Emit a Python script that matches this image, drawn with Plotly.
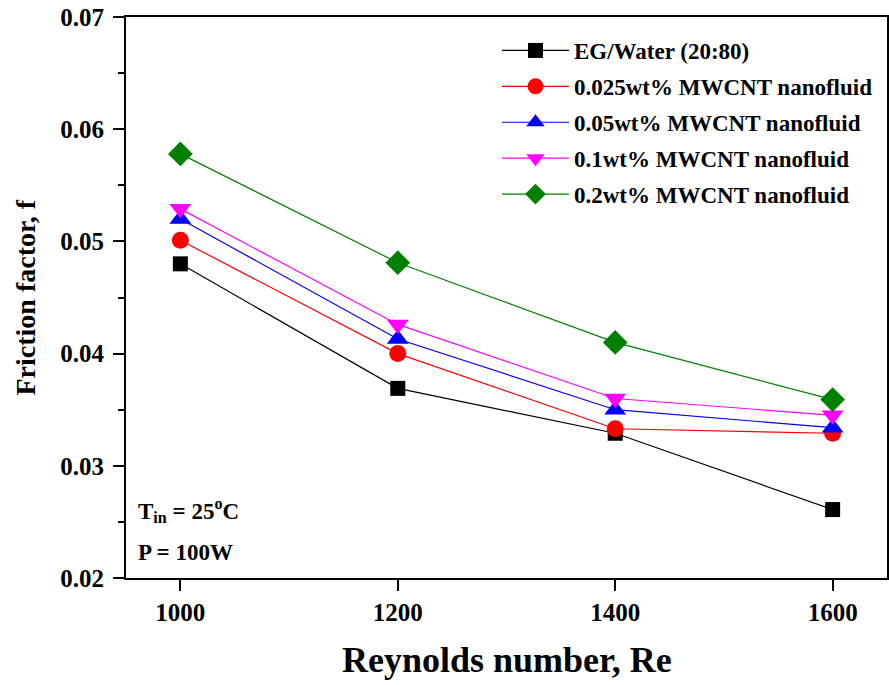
import plotly.graph_objects as go

reynolds = [1000, 1200, 1400, 1600]
eg_water = [0.0480, 0.0369, 0.0329, 0.0261]
mwcnt_0025 = [0.0501, 0.0400, 0.0333, 0.0329]
mwcnt_005 = [0.0520, 0.0413, 0.0350, 0.0334]
mwcnt_01 = [0.0529, 0.0426, 0.0360, 0.0345]
mwcnt_02 = [0.0578, 0.0481, 0.0410, 0.0359]

series_names = ["EG/Water (20:80)", "0.025wt% MWCNT nanofluid", "0.05wt% MWCNT nanofluid",
                "0.1wt% MWCNT nanofluid", "0.2wt% MWCNT nanofluid"]
series_vals = [eg_water, mwcnt_0025, mwcnt_005, mwcnt_01, mwcnt_02]
colors = ["#000000", "#ff0000", "#0000ff", "#ff00ff", "#008000"]
symbols = ["square", "circle", "triangle-up", "triangle-down", "diamond"]
sizes = [15, 17, 19, 19, 19]

FONT = "Liberation Serif"
W, H = 889, 685
L, R, T, B = 126, 2, 17, 107
PW, PH = W - L - R, H - T - B

fig = go.Figure()
for i, (n, v) in enumerate(zip(series_names, series_vals)):
    fig.add_trace(go.Scatter(
        x=reynolds, y=v, name=n, mode="lines+markers", legendgroup=str(i),
        line=dict(color=colors[i], width=1.2),
        marker=dict(symbol=symbols[i], size=sizes[i], color=colors[i], line=dict(width=0)),
    ))

axis_common = dict(showline=True, linecolor="black", linewidth=2, mirror=True,
                   ticks="outside", tickcolor="black", tickwidth=2, ticklen=11,
                   showgrid=False, zeroline=False,
                   tickfont=dict(family=FONT, size=25, color="black", weight="bold"))

fig.update_xaxes(range=[950, 1650], tickvals=[1000, 1200, 1400, 1600], **axis_common)
fig.update_yaxes(range=[0.02, 0.07], dtick=0.01, tickformat=".2f", ticklabelstandoff=4,
                 minor=dict(dtick=0.005, ticks="outside", ticklen=6, tickwidth=2, tickcolor="black"),
                 **axis_common)

fig.add_annotation(text="<b>Reynolds number, Re</b>", xref="paper", yref="paper",
                   x=0.5, y=-(660 - (H - B)) / PH, yanchor="middle", showarrow=False,
                   font=dict(family=FONT, size=36, color="black"))
fig.add_annotation(text="<b>Friction factor, f</b>", xref="paper", yref="paper",
                   x=-(L - 25) / PW, y=0.5, xanchor="center", yanchor="middle",
                   showarrow=False, textangle=-90,
                   font=dict(family=FONT, size=28, color="black"))
fig.add_annotation(text="<b>T<sub>in</sub> = 25<sup>o</sup>C</b>", xref="paper", yref="paper",
                   x=(136 - L) / PW, y=((H - B) - 510) / PH, xanchor="left", yanchor="middle",
                   showarrow=False, font=dict(family=FONT, size=23, color="black"))
fig.add_annotation(text="<b>P = 100W</b>", xref="paper", yref="paper",
                   x=(136 - L) / PW, y=((H - B) - 552) / PH, xanchor="left", yanchor="middle",
                   showarrow=False, font=dict(family=FONT, size=23, color="black"))

fig.update_layout(
    width=W, height=H,
    margin=dict(l=L, r=R, t=T, b=B, autoexpand=False),
    plot_bgcolor="white", paper_bgcolor="white",
    legend=dict(x=(497 - L) / PW, y=((H - B) - 29) / PH, xanchor="left", yanchor="top",
                bgcolor="rgba(0,0,0,0)", itemwidth=67, tracegroupgap=3,
                font=dict(family=FONT, size=23, color="black", weight="bold")),
    font=dict(family=FONT, color="black"),
)

post = ("document.body.style.margin='0';document.body.style.overflow='hidden';"
        "var gd=document.getElementById('{plot_id}');"
        "Plotly.relayout(gd,{width:%d,height:%d});" % (W, H))

fig.write_html("out.html", post_script=post,
               config={"responsive": False, "displayModeBar": False})
